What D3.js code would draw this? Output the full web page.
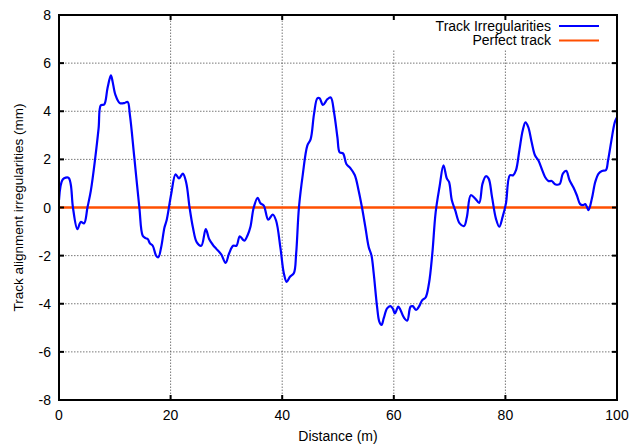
<!DOCTYPE html>
<html>
<head>
<meta charset="utf-8">
<script src="https://cdn.jsdelivr.net/npm/d3@7"></script>
<style>
  body { margin: 0; background: #fff; }
  text { font-family: "Liberation Sans", Arial, sans-serif; fill: #000; }
</style>
</head>
<body>
<div id="chart"></div>
<script>

  /**
   * Data
   */

  // distance along the track (m)
  const distance = [
    0, 0.7, 1.7, 2.1, 2.5, 3.3, 3.9, 4.5, 5.1, 5.7, 6.5, 7.1, 7.5, 8.1, 8.7, 9.3, 9.6, 10.1,
    10.9, 11.7, 12.3, 12.7, 13.5, 14.4, 15.0, 15.5, 15.9, 16.3, 16.8, 17.4, 17.8, 18.3, 18.9,
    19.3, 20.1, 20.9, 21.5, 22.2, 22.8, 23.4, 24.0, 24.7, 25.5, 26.3, 26.9, 27.6, 28.2, 29.1,
    29.85, 30.5, 31.2, 31.8, 32.4, 33.2, 33.8, 34.3, 34.9, 35.6, 36.1, 36.7, 37.5, 38.3, 38.9,
    39.7, 40.3, 40.8, 41.4, 42.1, 42.5, 43.0, 43.7, 44.5, 45.1, 45.7, 46.3, 46.7, 47.3, 48.1,
    48.7, 49.3, 49.9, 50.3, 50.9, 51.5, 52.2, 53.0, 53.7, 54.3, 54.9, 55.5, 56.0, 56.4, 57.0,
    57.4, 57.8, 58.2, 58.8, 59.4, 59.8, 60.2, 60.8, 61.2, 61.8, 62.4, 63.0, 63.4, 64.0, 64.5,
    65.1, 65.7, 66.3, 66.9, 67.5, 68.2, 68.9, 69.5, 69.9, 70.4, 71.0, 71.8, 72.6, 73.1, 73.8,
    74.6, 75.3, 75.9, 76.5, 77.0, 77.6, 78.3, 78.9, 79.5, 80.1, 80.8, 81.4, 81.9, 82.5, 83.1,
    83.6, 84.1, 84.7, 85.3, 85.9, 86.5, 87.1, 87.7, 88.3, 88.9, 89.7, 90.3, 90.9, 91.5, 92.2,
    92.8, 93.4, 93.9, 94.3, 94.6, 94.9, 95.5, 96.1, 96.7, 97.3, 98.0, 98.4, 99.0, 99.6, 100
  ];

  // lateral alignment irregularity (mm)
  const irregularity = [
    0.3, 1.17, 1.24, 0.97, 0, -0.9, -0.6, -0.66, 0, 0.69, 2.07, 3.3, 4.25, 4.28, 4.97, 5.49, 5.24, 4.69,
    4.34, 4.34, 4.39, 3.86, 2.07, 0, -1.17, -1.27, -1.31, -1.49, -1.59, -2.0, -2.07, -1.66, -0.83,
    -0.52, 0.55, 1.38, 1.21, 1.41, 1.03, 0, -0.83, -1.45, -1.59, -0.9, -1.31, -1.56, -1.72, -1.96,
    -2.3, -1.9, -1.59, -1.59, -1.2, -1.38, -1.15, -0.81, 0, 0.4, 0.18, 0.08, -0.51, -0.29, -0.54,
    -1.71, -2.74, -3.09, -2.88, -2.72, -1.92, 0, 1.39, 2.57, 2.84, 3.88, 4.54, 4.54, 4.26, 4.5,
    4.57, 3.94, 2.91, 2.29, 2.25, 1.81, 1.64, 1.35, 0.7, 0, -0.81, -1.64, -1.99, -2.74, -4.12,
    -4.74, -4.88, -4.6, -4.19, -4.1, -4.19, -4.4, -4.12, -4.26, -4.57, -4.7, -4.12, -4.1, -4.26, -4.12,
    -3.85, -3.74, -3.16, -1.92, -0.2, 0.86, 1.75, 1.21, 1.06, 0.3, -0.11, -0.66, -0.77, -0.39, 0.51,
    0.37, 0.19, 0.99, 1.3, 1.2, 0.44, -0.46, -0.8, -0.39, 0.17, 1.34, 1.34, 1.55, 2.37, 3.2,
    3.54, 3.34, 2.72, 2.17, 1.96, 1.61, 1.27, 1.1, 1.1, 0.97, 0.97, 1.41, 1.52, 1.13, 0.83,
    0.51, 0.14, 0.1, 0.14, 0.03, -0.11, 0.37, 1.06, 1.41, 1.52, 1.55, 1.96, 2.79, 3.54, 3.75
  ];

  const xTicks = [0, 20, 40, 60, 80, 100];
  const yTicks = [-8, -6, -4, -2, 0, 2, 4, 6, 8];

  const seriesNames = ['Track Irregularities', 'Perfect track'];
  const seriesColors = ['#0000ff', '#ff4f00'];


  /**
   * Chart
   */

  const width = 629;
  const height = 445;
  const margin = { top: 15, right: 12, bottom: 45, left: 59 };
  const fontSize = 14;

  const svg = d3.select('#chart')
                .append('svg')
                .attr('width', width)
                .attr('height', height);

  const x = d3.scaleLinear()
              .domain([0, 100])
              .range([margin.left, width - margin.right]);

  const y = d3.scaleLinear()
              .domain([-8, 8])
              .range([height - margin.bottom, margin.top]);

  const grid = svg.append('g')
                  .attr('stroke', '#555')
                  .attr('stroke-width', 0.8)
                  .attr('stroke-dasharray', '1.5,1.5');

  grid.selectAll('line.gx')
      .data(xTicks.slice(1, -1))
      .enter()
      .append('line')
      .attr('x1', d => x(d)).attr('x2', d => x(d))
      .attr('y1', y(-8)).attr('y2', y(8));

  grid.selectAll('line.gy')
      .data(yTicks.slice(1, -1))
      .enter()
      .append('line')
      .attr('x1', x(0)).attr('x2', x(100))
      .attr('y1', d => y(d)).attr('y2', d => y(d));

  // key box hides the grid behind the legend
  svg.append('rect')
     .attr('x', 385)
     .attr('y', y(8) + 1)
     .attr('width', x(100) - 386)
     .attr('height', 33)
     .attr('fill', '#fff');

  svg.append('clipPath').attr('id', 'plot-clip')
     .append('rect')
     .attr('x', x(0)).attr('y', y(8))
     .attr('width', x(100) - x(0)).attr('height', y(-8) - y(8));

  const line = d3.line()
                 .x(d => x(d[0]))
                 .y(d => y(d[1]))
                 .curve(d3.curveCatmullRom);

  svg.append('line')
     .attr('x1', x(0)).attr('x2', x(100))
     .attr('y1', y(0)).attr('y2', y(0))
     .attr('stroke', seriesColors[1])
     .attr('stroke-width', 2.5);

  svg.append('path')
     .datum(distance.map((d, i) => [d, irregularity[i]]))
     .attr('clip-path', 'url(#plot-clip)')
     .attr('fill', 'none')
     .attr('stroke', seriesColors[0])
     .attr('stroke-width', 2.2)
     .attr('stroke-linejoin', 'round')
     .attr('d', line);

  // ticks, mirrored on all four sides
  const ticks = svg.append('g').attr('stroke', '#000').attr('stroke-width', 2);

  xTicks.forEach(t => {
    ticks.append('line').attr('x1', x(t)).attr('x2', x(t)).attr('y1', y(-8)).attr('y2', y(-8) - 5);
    ticks.append('line').attr('x1', x(t)).attr('x2', x(t)).attr('y1', y(8)).attr('y2', y(8) + 5);
  });

  yTicks.forEach(t => {
    ticks.append('line').attr('x1', x(0)).attr('x2', x(0) + 5).attr('y1', y(t)).attr('y2', y(t));
    ticks.append('line').attr('x1', x(100)).attr('x2', x(100) - 5).attr('y1', y(t)).attr('y2', y(t));
  });

  svg.append('rect')
     .attr('x', x(0)).attr('y', y(8))
     .attr('width', x(100) - x(0)).attr('height', y(-8) - y(8))
     .attr('fill', 'none')
     .attr('stroke', '#000')
     .attr('stroke-width', 2);

  svg.selectAll('text.xt')
     .data(xTicks)
     .enter()
     .append('text')
     .attr('x', d => x(d))
     .attr('y', y(-8) + 20)
     .attr('text-anchor', 'middle')
     .attr('font-size', fontSize)
     .text(d => d);

  svg.selectAll('text.yt')
     .data(yTicks)
     .enter()
     .append('text')
     .attr('x', x(0) - 8)
     .attr('y', d => y(d) + 5)
     .attr('text-anchor', 'end')
     .attr('font-size', fontSize)
     .text(d => d);

  svg.append('text')
     .attr('x', (x(0) + x(100)) / 2)
     .attr('y', 441)
     .attr('text-anchor', 'middle')
     .attr('font-size', fontSize)
     .text('Distance (m)');

  svg.append('text')
     .attr('transform', `translate(23,${y(0)}) rotate(-90)`)
     .attr('text-anchor', 'middle')
     .attr('font-size', fontSize - 0.5)
     .text('Track alignment irregularities (mm)');

  // legend
  const legend = svg.append('g');

  seriesNames.forEach((name, i) => {
    const ly = 26 + i * 14.5;
    legend.append('text')
          .attr('x', 551)
          .attr('y', ly + 4.5)
          .attr('text-anchor', 'end')
          .attr('font-size', fontSize)
          .text(name);
    legend.append('line')
          .attr('x1', 559).attr('x2', 599)
          .attr('y1', ly).attr('y2', ly)
          .attr('stroke', seriesColors[i])
          .attr('stroke-width', 2);
  });

</script>
</body>
</html>
